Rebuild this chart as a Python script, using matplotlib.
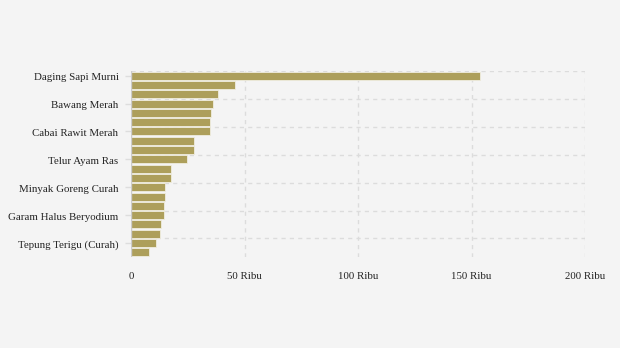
import matplotlib
matplotlib.use("Agg")
import matplotlib.pyplot as plt
import matplotlib.transforms as mtransforms
import numpy as np

# 20 bars; only every third category label is shown in the reference
labels = ["Daging Sapi Murni", "", "", "Bawang Merah", "", "", "Cabai Rawit Merah", "", "",
          "Telur Ayam Ras", "", "", "Minyak Goreng Curah", "", "", "Garam Halus Beryodium", "", "",
          "Tepung Terigu (Curah)", ""]
values = [153700, 45800, 38300, 36100, 35200, 34800, 34800, 27800, 27800, 24700,
          17600, 17600, 15000, 15000, 14500, 14500, 13200, 12800, 11000, 7900]
xticks = [0, 50000, 100000, 150000, 200000]
xtick_labels = ["0", "50 Ribu", "100 Ribu", "150 Ribu", "200 Ribu"]

bg = "#f4f4f4"
bar_color = "#ad9f5b"
grid_color = "#dcdcdc"

plt.rcParams['font.family'] = ['Liberation Serif', 'DejaVu Serif']

fig = plt.figure(figsize=(6.2, 3.48), dpi=100, facecolor=bg)
ax = fig.add_axes([131/620, 1-257/348, 454/620, 186/348], facecolor=bg)

y = np.arange(len(values))
ax.barh(y, values, height=0.86, color=bar_color, edgecolor="#f0ede0", linewidth=0.6, zorder=3)

ax.set_ylim(len(values) - 0.5, -0.5)
ax.set_xlim(0, 200000)

# horizontal grid at category boundaries every 3 categories
for b in np.arange(-0.5, len(values) - 0.5, 3):
    ax.axhline(b, color=grid_color, lw=1, ls=(0, (3, 3)), zorder=1)
for xv in xticks:
    ax.axvline(xv, color=grid_color, lw=1, ls=(0, (3, 3)), zorder=1)

ax.axvline(0, color="#cccccc", lw=1, zorder=4)

lab_pos = [i for i, l in enumerate(labels) if l]
ax.set_yticks(lab_pos)
ax.set_yticklabels([labels[i] for i in lab_pos], fontsize=7.85, color="#222222")
ax.tick_params(axis='y', length=4, width=1, color="#dddddd", pad=5)
off = mtransforms.ScaledTranslation(0, -1/100, fig.dpi_scale_trans)
for t in ax.get_yticklabels():
    t.set_transform(t.get_transform() + off)

ax.set_xticks(xticks)
ax.set_xticklabels(xtick_labels, fontsize=7.85, color="#222222")
ax.tick_params(axis='x', length=0, pad=11)

for s in ax.spines.values():
    s.set_visible(False)

fig.savefig("out.png", dpi=100, facecolor=bg)
